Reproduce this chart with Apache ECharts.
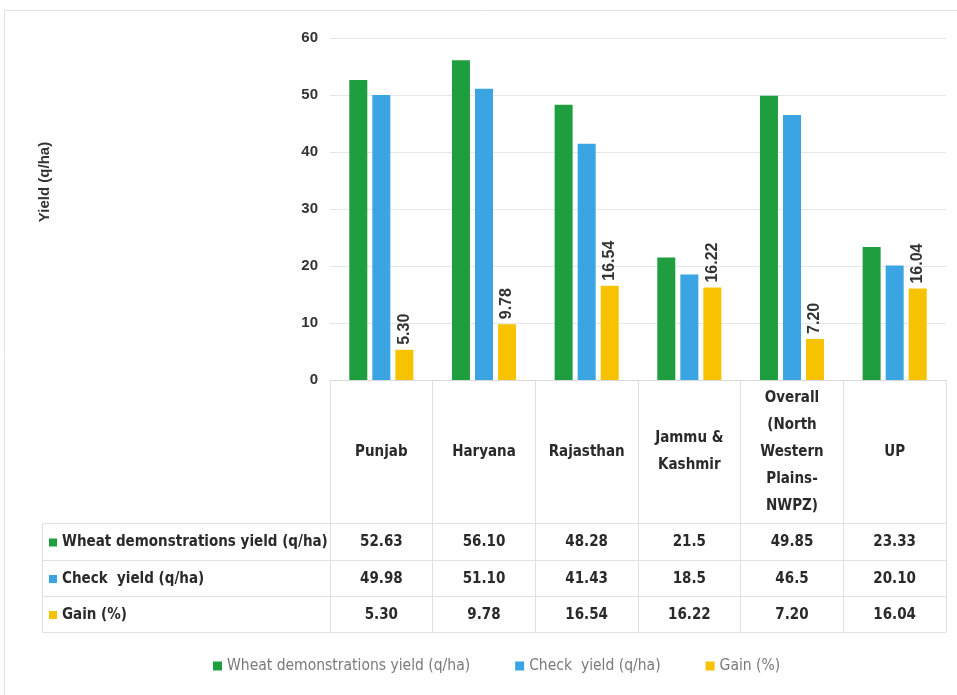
<!DOCTYPE html>
<html>
<head>
<meta charset="utf-8">
<script src="https://cdn.jsdelivr.net/npm/echarts@6/dist/echarts.min.js"></script>
<style>
  html, body { margin: 0; padding: 0; background: #fff; }
  #chart { width: 957px; height: 695px; }
</style>
</head>
<body>
<div id="chart"></div>
<script>
// data
const categories = ['Punjab', 'Haryana', 'Rajasthan', 'Jammu &\nKashmir', 'Overall\n(North\nWestern\nPlains-\nNWPZ)', 'UP'];
const seriesNames = ['Wheat demonstrations yield (q/ha)', 'Check  yield (q/ha)', 'Gain (%)'];
const wheatYield = ['52.63', '56.10', '48.28', '21.5', '49.85', '23.33'];
const checkYield = ['49.98', '51.10', '41.43', '18.5', '46.5', '20.10'];
const gainPct = ['5.30', '9.78', '16.54', '16.22', '7.20', '16.04'];
const yTicks = [0, 10, 20, 30, 40, 50, 60];

const colors = ['#1e9e3e', '#3aa5e2', '#f7c300'];
const narrow = "'Liberation Sans Narrow', 'DejaVu Sans Condensed', 'Open Sans', sans-serif";
const arial = "'Liberation Sans', Arial, sans-serif";

const tableRows = [wheatYield, checkYield, gainPct];
const rowLines = [523, 560, 596, 632]; // table row borders
const tableLeft = 42;
const plotRight = 946;

let myChart = echarts.init(document.getElementById('chart'));

let option = {
  backgroundColor: '#fff',
  animation: false,
  grid: {
    left: 330,
    right: 957 - plotRight,
    top: 38,
    bottom: 695 - 380,
  },
  legend: {
    data: seriesNames,
    left: 208,
    top: 653,
    icon: 'rect',
    itemWidth: 9,
    itemHeight: 9,
    itemGap: 45,
    textStyle: {
      color: '#7a7a7a',
      fontSize: 15.5,
      fontFamily: narrow,
    },
  },
  xAxis: {
    type: 'category',
    data: categories,
    axisLine: { lineStyle: { color: '#d9d9d9' } },
    axisTick: {
      show: true,
      length: rowLines[3] - 380,
      lineStyle: { color: '#e0e0e0' },
    },
    axisLabel: {
      interval: 0,
      margin: 72,
      verticalAlign: 'middle',
      lineHeight: 27,
      fontSize: 15,
      fontWeight: 'bold',
      color: '#2a2a2a',
      fontFamily: narrow,
    },
  },
  yAxis: {
    type: 'value',
    min: yTicks[0],
    max: yTicks[yTicks.length - 1],
    interval: 10,
    axisLine: { show: false },
    axisTick: { show: false },
    splitLine: { lineStyle: { color: '#e6e6e6' } },
    axisLabel: {
      margin: 12,
      fontSize: 15,
      fontWeight: 'bold',
      color: '#333',
      fontFamily: arial,
    },
  },
  series: [
    {
      name: seriesNames[0],
      type: 'bar',
      data: wheatYield.map(Number),
      barWidth: 18,
      barGap: '28%',
      itemStyle: { color: colors[0] },
    },
    {
      name: seriesNames[1],
      type: 'bar',
      data: checkYield.map(Number),
      barWidth: 18,
      barGap: '28%',
      itemStyle: { color: colors[1] },
    },
    {
      name: seriesNames[2],
      type: 'bar',
      data: gainPct.map(Number),
      barWidth: 18,
      barGap: '28%',
      itemStyle: { color: colors[2] },
      label: {
        show: true,
        position: 'top',
        rotate: 90,
        align: 'left',
        verticalAlign: 'middle',
        distance: 5,
        fontSize: 16,
        fontWeight: 'bold',
        color: '#333',
        fontFamily: arial,
        formatter: (p) => gainPct[p.dataIndex],
      },
    },
  ],
};

myChart.setOption(option);

// data table under the plot, laid out on the category axis
let graphics = [];
// outer frame
graphics.push({
  type: 'rect',
  shape: { x: 4.5, y: 10.5, width: 1000, height: 1000 },
  style: { fill: 'none', stroke: '#e2e2e2', lineWidth: 1 },
  silent: true,
});
// y axis title
graphics.push({
  type: 'text',
  x: 45,
  y: 182,
  rotation: Math.PI / 2,
  style: {
    text: 'Yield (q/ha)',
    font: 'bold 15px ' + arial,
    fill: '#333',
    align: 'center',
    verticalAlign: 'middle',
  },
});
rowLines.forEach((y) => {
  graphics.push({
    type: 'line',
    shape: { x1: tableLeft, y1: y + 0.5, x2: plotRight, y2: y + 0.5 },
    style: { stroke: '#e0e0e0', lineWidth: 1 },
  });
});
graphics.push({
  type: 'line',
  shape: { x1: tableLeft + 0.5, y1: rowLines[0], x2: tableLeft + 0.5, y2: rowLines[3] },
  style: { stroke: '#e0e0e0', lineWidth: 1 },
});
tableRows.forEach((row, r) => {
  let cy = (rowLines[r] + rowLines[r + 1]) / 2 + 1;
  graphics.push({
    type: 'rect',
    shape: { x: 49, y: cy - 4, width: 8, height: 8 },
    style: { fill: colors[r] },
  });
  graphics.push({
    type: 'text',
    x: 62,
    y: cy,
    style: {
      text: seriesNames[r],
      fontSize: 15,
      fontWeight: 'bold',
      fontFamily: narrow,
      fill: '#2a2a2a',
      align: 'left',
      verticalAlign: 'middle',
    },
  });
  row.forEach((v, i) => {
    let cx = myChart.convertToPixel({ xAxisIndex: 0 }, i);
    graphics.push({
      type: 'text',
      x: cx,
      y: cy,
      style: {
        text: v,
        fontSize: 15,
        fontWeight: 'bold',
        fontFamily: narrow,
        fill: '#2a2a2a',
        align: 'center',
        verticalAlign: 'middle',
      },
    });
  });
});

myChart.setOption({ graphic: graphics });

window.addEventListener('resize', function () {
  myChart.resize();
});
</script>
</body>
</html>
